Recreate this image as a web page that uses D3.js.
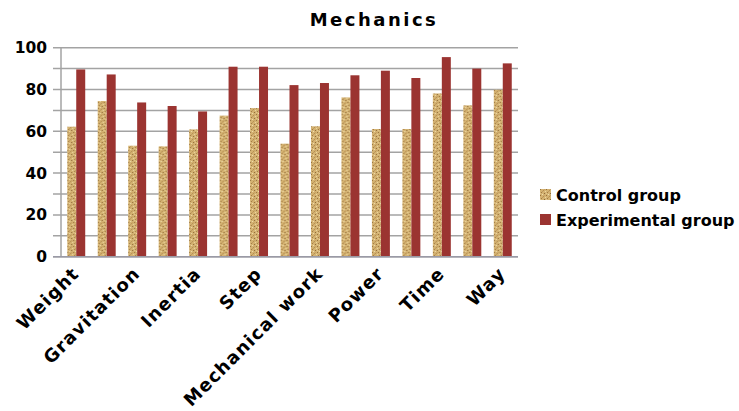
<!DOCTYPE html>
<html>
<head>
<meta charset="utf-8">
<script src="https://cdn.jsdelivr.net/npm/d3@7/dist/d3.min.js"></script>
<style>
  html, body { margin: 0; padding: 0; background: #fff; }
  svg { display: block; }
  text { font-family: "DejaVu Sans", Verdana, sans-serif; font-weight: bold; fill: #000; }
</style>
</head>
<body>
<svg id="chart" width="739" height="411"></svg>
<script>
// Scores per topic (15 topics, labels shown on every other topic)
const topicIndex = d3.range(15);
const tickLabels = ["Weight", "", "Gravitation", "", "Inertia", "", "Step", "",
                    "Mechanical work", "", "Power", "", "Time", "", "Way"];
const controlGroup = [62.2, 74.5, 53.1, 52.8, 60.9, 67.5, 71.1, 54.1, 62.4, 76.2, 61.1, 61.1, 78.1, 72.4, 79.9];
const experimentalGroup = [89.6, 87.2, 73.8, 72.1, 69.5, 90.9, 90.9, 82.1, 83.1, 86.8, 89.0, 85.5, 95.5, 90.0, 92.5];
const seriesNames = ["Control group", "Experimental group"];
const yTicks = [0, 20, 40, 60, 80, 100];
const gridTicks = d3.range(0, 101, 10);

const svg = d3.select("#chart");
const plot = { left: 61, right: 518, top: 47.7, bottom: 256.7 };

// Speckled tan texture for the control series
const defs = svg.append("defs");
const pat = defs.append("pattern")
  .attr("id", "tan").attr("patternUnits", "userSpaceOnUse")
  .attr("width", 6).attr("height", 6);
pat.append("rect").attr("width", 6).attr("height", 6).attr("fill", "#d4b271");
const specks = [[0,0,"#96713e"],[3,1,"#b38d52"],[1,3,"#a07a45"],[4,4,"#8e6a3a"],[5,2,"#ead8a6"],[2,5,"#efdfb2"],[4,0,"#c6a165"],[0,4,"#e0c68f"],[2,2,"#bf9a5e"]];
specks.forEach(([x, y, c]) => pat.append("rect").attr("x", x).attr("y", y).attr("width", 1).attr("height", 1).attr("fill", c));

const colors = ["url(#tan)", "#9b3431"];

const x0 = d3.scaleBand().domain(topicIndex).range([plot.left, plot.right])
  .paddingInner(0.41).paddingOuter(0.205);
const x1 = d3.scaleBand().domain([0, 1]).range([0, x0.bandwidth()]);
const y = d3.scaleLinear().domain([0, 100]).range([plot.bottom, plot.top]);

// Horizontal gridlines with short outside ticks
svg.append("g").selectAll("line").data(gridTicks).join("line")
  .attr("x1", plot.left - 8).attr("x2", plot.right)
  .attr("y1", d => y(d)).attr("y2", d => y(d))
  .attr("stroke", "#a3a3a3").attr("stroke-width", 1.5);

// Vertical axis line
svg.append("line")
  .attr("x1", plot.left).attr("x2", plot.left)
  .attr("y1", y(100)).attr("y2", y(0))
  .attr("stroke", "#a3a3a3").attr("stroke-width", 1.5);

// Y tick labels
svg.append("g").selectAll("text").data(yTicks).join("text")
  .attr("x", 47).attr("y", d => y(d)).attr("dy", "0.36em")
  .attr("text-anchor", "end").attr("font-size", 15.5)
  .text(d => d);

// Bars
const series = [controlGroup, experimentalGroup];
const groups = svg.append("g").selectAll("g").data(topicIndex).join("g")
  .attr("transform", i => `translate(${x0(i)},0)`);
groups.selectAll("rect").data(i => series.map((s, k) => ({ k, v: s[i] }))).join("rect")
  .attr("x", d => x1(d.k)).attr("width", x1.bandwidth())
  .attr("y", d => y(d.v)).attr("height", d => y(0) - y(d.v))
  .attr("fill", d => colors[d.k]);

// Bottom axis line (drawn over bar bases)
svg.append("line")
  .attr("x1", plot.left - 8).attr("x2", plot.right)
  .attr("y1", y(0)).attr("y2", y(0))
  .attr("stroke", "#9a9aa6").attr("stroke-width", 1.5);

// Rotated category labels
svg.append("g").selectAll("text").data(topicIndex.filter(i => tickLabels[i])).join("text")
  .attr("transform", i => `translate(${x0(i) + x0.bandwidth() / 2 + 4},${y(0) + 18}) rotate(-45)`)
  .attr("text-anchor", "end").attr("font-size", 18).attr("letter-spacing", 1.2)
  .text(i => tickLabels[i]);

// Title
svg.append("text").attr("x", 374).attr("y", 26)
  .attr("text-anchor", "middle").attr("font-size", 18).attr("letter-spacing", 2.5)
  .text("Mechanics");

// Legend
const legend = svg.append("g").selectAll("g").data(seriesNames).join("g")
  .attr("transform", (d, k) => `translate(540,${195 + k * 25})`);
legend.append("rect").attr("x", 0).attr("y", -6).attr("width", 11).attr("height", 11)
  .attr("fill", (d, k) => colors[k]);
legend.append("text").attr("x", 16).attr("y", 0).attr("dy", "0.36em")
  .attr("font-size", 16).text(d => d);
</script>
</body>
</html>
